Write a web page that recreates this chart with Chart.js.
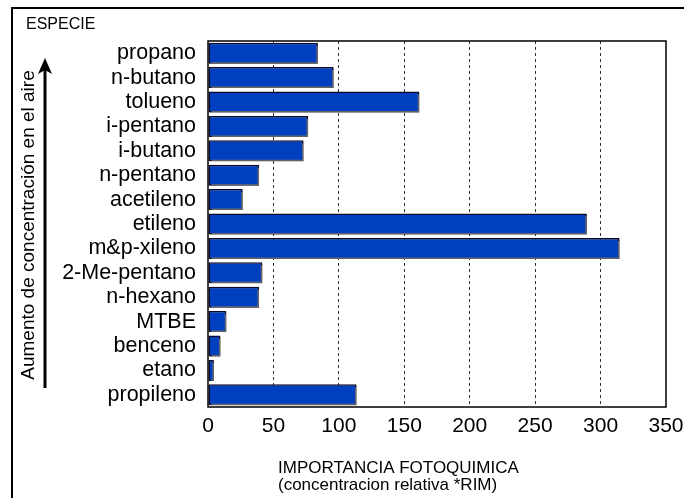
<!DOCTYPE html>
<html>
<head>
<meta charset="utf-8">
<script src="https://cdn.jsdelivr.net/npm/chart.js@4/dist/chart.umd.min.js"></script>
<style>
  html, body { margin: 0; padding: 0; background: #fff; }
  #wrap { position: relative; width: 685px; height: 498px; }
</style>
</head>
<body>
<div id="wrap"><canvas id="c" width="685" height="498"></canvas></div>
<script>
// Species, ordered from highest to lowest concentration in air (top to bottom)
const especies = ['propano', 'n-butano', 'tolueno', 'i-pentano', 'i-butano', 'n-pentano',
  'acetileno', 'etileno', 'm&p-xileno', '2-Me-pentano', 'n-hexano', 'MTBE', 'benceno',
  'etano', 'propileno'];
// Photochemical importance (relative concentration * RIM)
const importancia = [84, 96, 161.5, 76.5, 73, 39, 26.5, 289.5, 314.5, 41.5, 39, 14, 9.5, 4.5, 113.5];
const xTicks = [0, 50, 100, 150, 200, 250, 300, 350];

const FONT = "'Liberation Sans', Arial, sans-serif";

const decor = {
  id: 'decor',
  beforeDatasetsDraw(chart) {
    const ctx = chart.ctx;
    ctx.save();
    ctx.shadowColor = 'rgba(110,110,110,0.9)';
    ctx.shadowOffsetX = 1.5;
    ctx.shadowOffsetY = 1.5;
    ctx.shadowBlur = 0;
  },
  afterDatasetsDraw(chart) {
    chart.ctx.restore();
  },
  afterDraw(chart) {
    const ctx = chart.ctx;
    const a = chart.chartArea;
    ctx.save();
    // plot frame
    ctx.strokeStyle = '#000';
    ctx.lineWidth = 1.5;
    ctx.strokeRect(a.left, a.top, a.right - a.left, a.bottom - a.top);
    // outer frame (top and left edges)
    ctx.lineWidth = 2;
    ctx.beginPath();
    ctx.moveTo(12, 498);
    ctx.lineTo(12, 8);
    ctx.lineTo(684, 8);
    ctx.stroke();
    // header
    ctx.fillStyle = '#000';
    ctx.font = '16px ' + FONT;
    ctx.textBaseline = 'middle';
    ctx.textAlign = 'left';
    ctx.fillText('ESPECIE', 26, 25);
    // x axis description
    ctx.font = '17px ' + FONT;
    ctx.fillText('IMPORTANCIA FOTOQUIMICA', 278, 468);
    ctx.fillText('(concentracion relativa *RIM)', 278, 485);
    // rotated axis description
    ctx.save();
    ctx.translate(29, 225);
    ctx.rotate(-Math.PI / 2);
    ctx.textAlign = 'center';
    ctx.font = '19px ' + FONT;
    ctx.fillText('Aumento de concentración en el aire', 0, 0);
    ctx.restore();
    // upward arrow
    ctx.lineWidth = 3;
    ctx.beginPath();
    ctx.moveTo(45, 388);
    ctx.lineTo(45, 70);
    ctx.stroke();
    ctx.beginPath();
    ctx.moveTo(45, 58);
    ctx.lineTo(52, 74);
    ctx.lineTo(45, 70);
    ctx.lineTo(38, 74);
    ctx.closePath();
    ctx.fill();
    ctx.restore();
  }
};

new Chart(document.getElementById('c'), {
  type: 'bar',
  data: {
    labels: especies,
    datasets: [{
      data: importancia,
      backgroundColor: 'rgb(0,64,192)',
      borderColor: '#0a0a28',
      borderWidth: 1.5,
      borderSkipped: false,
      barPercentage: 0.86,
      categoryPercentage: 1
    }]
  },
  options: {
    indexAxis: 'y',
    responsive: false,
    animation: false,
    devicePixelRatio: 1,
    layout: { padding: { top: 41, right: 19, left: 0, bottom: 0 } },
    plugins: { legend: { display: false }, tooltip: { enabled: false } },
    scales: {
      x: {
        min: 0, max: 350,
        afterBuildTicks(s) { s.ticks = xTicks.map(v => ({ value: v })); },
        afterFit(s) {
          s.height = 498 - 407;
          s.paddingLeft = 0;
          s.paddingRight = 0;
        },
        border: { display: false, dash: [3, 3] },
        grid: {
          drawTicks: false,
          color: c => (c.tick && (c.tick.value === 0 || c.tick.value === 350)) ? 'rgba(0,0,0,0)' : '#333',
          lineWidth: 1
        },
        ticks: { color: '#000', font: { family: FONT, size: 21 }, padding: 7, maxRotation: 0 }
      },
      y: {
        afterFit(s) {
          s.width = 208;
          s.paddingTop = 0;
          s.paddingBottom = 0;
        },
        border: { display: false },
        grid: { display: false, drawTicks: false },
        ticks: { color: '#000', font: { family: FONT, size: 21.5 }, padding: 12, autoSkip: false }
      }
    }
  },
  plugins: [decor]
});
</script>
</body>
</html>
